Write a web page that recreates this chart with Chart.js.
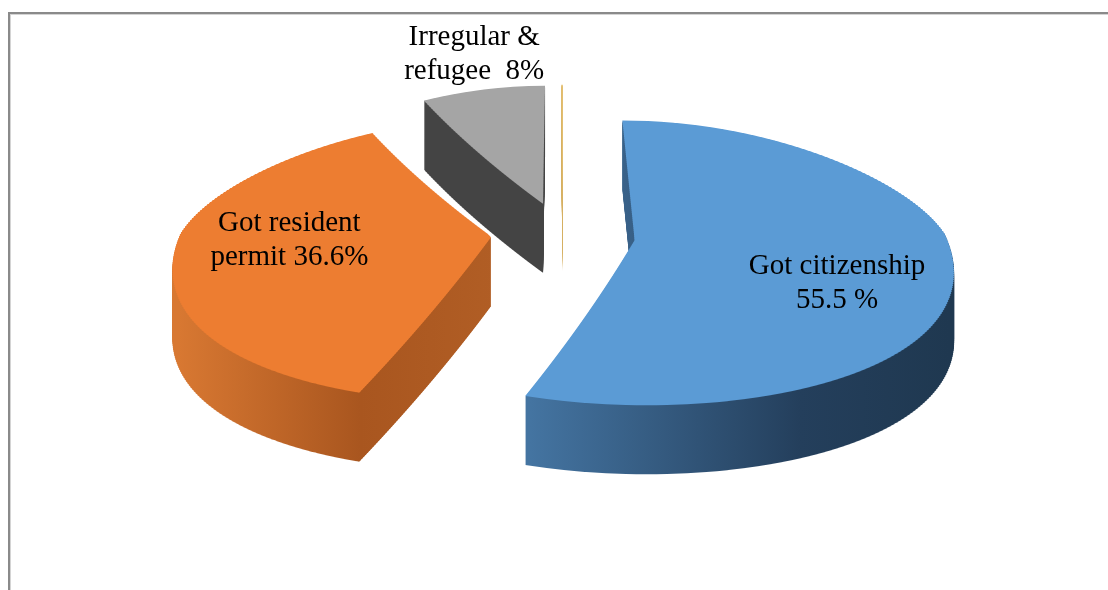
<!DOCTYPE html>
<html>
<head>
<meta charset="utf-8">
<script src="https://cdn.jsdelivr.net/npm/chart.js@4.4.1/dist/chart.umd.min.js"></script>
<style>
    html, body { margin: 0; padding: 0; background: #fff; }
    #wrap { position: relative; width: 1108px; height: 590px; overflow: hidden; }
    #frame {
        position: absolute; left: 8px; top: 12px; width: 1200px; height: 700px;
        border-top: 2px solid #8a8a8a; border-left: 2px solid #8a8a8a;
        box-shadow: inset 1px 1px 0 #d4d4d4;
    }
    #box { position: absolute; left: 0; top: 0; width: 1108px; height: 590px; }
</style>
</head>
<body>
<div id="wrap">
    <div id="frame"></div>
    <div id="box"><canvas id="pieChart"></canvas></div>
</div>
<script>
// status of the respondents
const categories = ['Got citizenship', 'Got resident permit', 'Irregular & refugee', 'Other'];
const shares = [55.5, 36.6, 8, 0.1];
const labelLines = [
    ['Got citizenship', shares[0] + ' %'],
    ['Got resident', 'permit ' + shares[1] + '%'],
    ['Irregular &', 'refugee  ' + shares[2] + '%'],
    []
];

// 3D look: the pie plane is squashed harder behind the centre than in front,
// and gets narrower towards the back
const FAR = 0.38;
const NEAR = 0.53;
const WIDEN = 0.17;
const DEPTH = 69;        // wall thickness in px
const STRIP = 2;         // height of the strips the perspective is built from
const LINE_H = 34;
const explode = [72, 72, 82, 82];
const topColors = ['#5b9bd5', '#ed7d31', '#a5a5a5', '#e6c274'];
const wallStops = [
    [[530, '#4474a1'], [800, '#243f5c'], [950, '#1f3850']],
    [[178, '#d87832'], [360, '#a9561f'], [500, '#b15e25']],
    [[0, '#444444'], [1108, '#444444']],
    [[0, '#d6b062'], [1108, '#d6b062']]
];
const labelReach = [0.65, 0.65, 1.15, 0];
const labelNudge = [[-3, 25], [3, -6], [-3, -18], [0, 0]];

const planeToScreenY = (y, cy) => cy + (y - cy) * (y < cy ? FAR : NEAR);
const screenToPlaneY = (y, cy) => cy + (y - cy) / (y < cy ? FAR : NEAR);
const widthAt = (y, cy, R) => 1 + WIDEN * (y - cy) / R;

function sliceShift(arc, i) {
    const mid = (arc.startAngle + arc.endAngle) / 2;
    return { x: Math.cos(mid) * explode[i], y: Math.sin(mid) * explode[i] };
}

// vertical extent of a slice on the flat plane, relative to its tip
function sliceYRange(arc) {
    let lo = 0, hi = 0;
    const steps = 64;
    for (let k = 0; k <= steps; k++) {
        const a = arc.startAngle + (arc.endAngle - arc.startAngle) * k / steps;
        const y = Math.sin(a) * arc.outerRadius;
        lo = Math.min(lo, y);
        hi = Math.max(hi, y);
    }
    return [lo, hi];
}

function paintSlice(chart, arc, shift, dy, stops) {
    const ctx = chart.ctx;
    const cx = arc.x, cy = arc.y, R = arc.outerRadius;
    const [lo, hi] = sliceYRange(arc);
    const top = Math.floor(planeToScreenY(cy + shift.y + lo, cy) + dy) - 1;
    const bottom = Math.ceil(planeToScreenY(cy + shift.y + hi, cy) + dy) + 1;
    const opts = arc.options;
    for (let ys = top; ys < bottom; ys += STRIP) {
        const py = screenToPlaneY(ys + STRIP / 2 - dy, cy);
        const s = py < cy ? FAR : NEAR;
        const k = widthAt(py, cy, R);
        const ex = cx * (1 - k) + shift.x * k;
        ctx.save();
        ctx.beginPath();
        ctx.rect(0, ys, chart.width, STRIP);
        ctx.clip();
        ctx.transform(k, 0, 0, s, ex, cy + dy - cy * s + shift.y * s);
        if (stops) {
            const x0 = stops[0][0];
            const x1 = stops[stops.length - 1][0];
            const g = ctx.createLinearGradient((x0 - ex) / k, 0, (x1 - ex) / k, 0);
            stops.forEach(([x, c]) => g.addColorStop((x - x0) / (x1 - x0), c));
            arc.options = Object.assign({}, opts, { backgroundColor: g });
        }
        arc.draw(ctx);
        arc.options = opts;
        ctx.restore();
    }
}

const pie3d = {
    id: 'pie3d',
    beforeDatasetsDraw(chart) {
        const arcs = chart.getDatasetMeta(0).data;
        const shifts = arcs.map(sliceShift);
        for (let d = DEPTH; d > 0; d--) {
            arcs.forEach((arc, i) => paintSlice(chart, arc, shifts[i], d, wallStops[i]));
        }
        arcs.forEach((arc, i) => paintSlice(chart, arc, shifts[i], 0, null));
        return false;
    }
};

const sliceLabels = {
    id: 'sliceLabels',
    afterDraw(chart) {
        const ctx = chart.ctx;
        const arcs = chart.getDatasetMeta(0).data;
        ctx.save();
        ctx.font = '29px "Liberation Serif", "Times New Roman", serif';
        ctx.fillStyle = '#000';
        ctx.textAlign = 'center';
        ctx.textBaseline = 'middle';
        arcs.forEach((arc, i) => {
            const lines = labelLines[i];
            if (!lines.length) return;
            const mid = (arc.startAngle + arc.endAngle) / 2;
            const shift = sliceShift(arc, i);
            const r = arc.outerRadius * labelReach[i];
            const px = arc.x + shift.x + Math.cos(mid) * r;
            const py = arc.y + shift.y + Math.sin(mid) * r;
            const x = arc.x + (px - arc.x) * widthAt(py, arc.y, arc.outerRadius) + labelNudge[i][0];
            const y = planeToScreenY(py, arc.y) + labelNudge[i][1];
            lines.forEach((t, k) => ctx.fillText(t, x, y + (k - (lines.length - 1) / 2) * LINE_H));
        });
        ctx.restore();
    }
};

new Chart(document.getElementById('pieChart').getContext('2d'), {
    type: 'pie',
    data: {
        labels: categories,
        datasets: [{
            data: shares,
            backgroundColor: topColors,
            borderWidth: 0
        }]
    },
    options: {
        responsive: true,
        maintainAspectRatio: false,
        animation: false,
        events: [],
        radius: 311,
        layout: { padding: { left: 18, right: 0, top: 0, bottom: 122 } },
        plugins: {
            legend: { display: false },
            tooltip: { enabled: false }
        }
    },
    plugins: [pie3d, sliceLabels]
});
</script>
</body>
</html>
